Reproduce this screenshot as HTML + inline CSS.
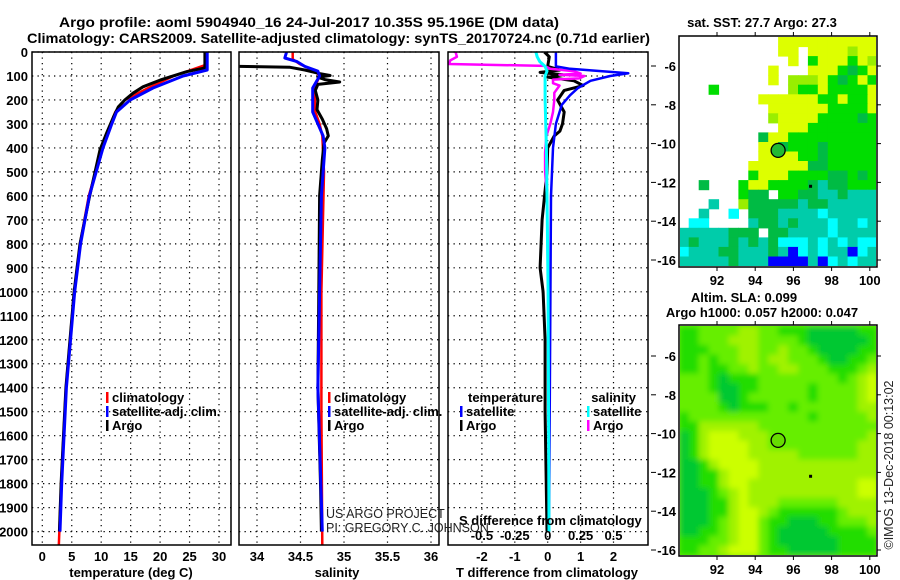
<!DOCTYPE html>
<html><head><meta charset="utf-8"><style>
html,body{margin:0;padding:0;background:#fff;}
svg{display:block;font-family:"Liberation Sans",sans-serif;}
.b{font-weight:bold;font-size:13px;fill:#000;}
.t{font-weight:bold;font-size:14px;fill:#000;}
.thin{font-size:12.5px;fill:#222;}
.grid{stroke:#000;stroke-width:1.2;stroke-dasharray:1.3 4.2;fill:none;}
.frame{fill:none;stroke:#000;stroke-width:1.5;}
</style></head><body>
<svg id="chart" width="900" height="580" viewBox="0 0 900 580" xmlns="http://www.w3.org/2000/svg">
<defs>
<clipPath id="c1"><rect x="32" y="52" width="199" height="493"/></clipPath>
<clipPath id="c2"><rect x="239" y="52" width="200" height="493"/></clipPath>
<clipPath id="c3"><rect x="448" y="52" width="200" height="493"/></clipPath>
<clipPath id="cm1"><rect x="680" y="37" width="196" height="229"/></clipPath>
<clipPath id="cm2"><rect x="680" y="326" width="196" height="229"/></clipPath>
<filter id="blur"><feGaussianBlur stdDeviation="3"/></filter>
</defs>
<text class="t" x="59" y="27" textLength="500" lengthAdjust="spacingAndGlyphs">Argo profile: aoml 5904940_16 24-Jul-2017 10.35S 95.196E (DM data)</text>
<text class="t" x="27" y="43" textLength="623" lengthAdjust="spacingAndGlyphs">Climatology: CARS2009. Satellite-adjusted climatology: synTS_20170724.nc (0.71d earlier)</text>
<text class="b" x="762" y="27" text-anchor="middle">sat. SST: 27.7 Argo: 27.3</text>
<text class="b" x="744" y="302" text-anchor="middle">Altim. SLA: 0.099</text>
<text class="b" x="762" y="317" text-anchor="middle">Argo h1000: 0.057 h2000: 0.047</text>
<g id="g"></g>
<text class="thin" x="326" y="518">US ARGO PROJECT</text>
<text class="thin" x="326" y="532">PI: GREGORY C. JOHNSON</text>
<text class="thin" transform="translate(893,465) rotate(-90)" text-anchor="middle">©IMOS 13-Dec-2018 00:13:02</text>
</svg>
<script>
// ---- data ----
const depthTicks = [0,100,200,300,400,500,600,700,800,900,1000,1100,1200,1300,1400,1500,1600,1700,1800,1900,2000];
const tempTicks = [0,5,10,15,20,25,30];
const salTicks = [34,34.5,35,35.5,36];
const salTickLabels = ["34","34.5","35","35.5","36"];
const dtTicks = [-2,-1,0,1,2];
const dsTicks = [-0.5,-0.25,0,0.25,0.5];
const dsTickLabels = ["-0.5","-0.25","0","0.25","0.5"];

const tArgoDepth = [0,65,68,82,117,145,172,200,229,270,339,408,617,800,1000,1400,1800,2000];
const tArgo      = [27.6,27.6,27.3,24.5,20,17.1,15.4,14,12.9,12.1,10.9,9.8,7.9,6.4,5.4,4.0,3.2,2.9];
const tSatDepth  = [0,75,100,150,200,250,300,400,600,800,1000,1400,1800,2000];
const tSat       = [28,28,23.9,18.8,14.9,12.6,11.8,10.3,8.0,6.5,5.5,4.1,3.3,3.0];
const tClimDepth = [0,55,100,150,200,250,300,400,600,800,1000,1400,1800,2060];
const tClim      = [27.6,27.6,22.3,18.0,14.0,12.4,11.6,10.2,7.9,6.4,5.4,4.0,3.2,2.8];

const sArgoDepth = [60,64,75,90,98,105,115,125,135,160,200,240,280,320,350,380,450,600,1000,1400,1800,2000];
const sArgo      = [33.8,34.38,34.55,34.72,34.84,34.70,34.78,34.95,34.70,34.67,34.70,34.69,34.75,34.80,34.82,34.77,34.75,34.72,34.71,34.70,34.73,34.74];
const sSatDepth  = [0,25,40,60,80,100,150,250,300,350,400,600,1000,1400,2000];
const sSat       = [34.34,34.32,34.46,34.55,34.70,34.72,34.64,34.64,34.70,34.76,34.78,34.74,34.72,34.70,34.75];
const sClimDepth = [0,30,50,80,100,150,250,300,350,500,1000,1500,2060];
const sClim      = [34.41,34.41,34.49,34.67,34.72,34.66,34.67,34.72,34.75,34.77,34.74,34.74,34.75];

const dtSatDepth = [0,60,70,89,100,120,150,180,220,300,400,600,2000];
const dtSat      = [0.25,0.25,0.68,2.45,1.9,1.3,0.92,0.68,0.43,0.25,0.16,0.1,0.04];
const dtArgoDepth = [0,20,60,75,85,95,105,120,140,160,200,250,300,330,350,400,500,700,900,1000,1200,1500,2000];
const dtArgo      = [-0.1,0.05,0,0.37,-0.23,0.45,0,0.8,1.08,0.5,0.3,0.5,0.45,0.37,0.2,0,-0.02,-0.17,-0.23,-0.14,-0.08,-0.08,-0.02];
const dsArgoDepth = [0,20,35,50,58,70,80,90,95,100,110,115,130,140,170,200,250,300,350,420,500,600,1000,1500,2000];
const dsArgo      = [-0.70,-0.69,-0.74,-0.75,-0.025,0.02,0.2,0.25,0.09,0.28,0.24,0.04,0.04,0.09,0.05,0.05,0.04,0.02,-0.01,-0.02,-0.02,-0.005,0.003,0.01,0.01];
const dsSatDepth = [0,20,40,60,80,100,200,400,600,1000,2000];
const dsSat      = [-0.09,-0.08,-0.06,-0.02,-0.005,-0.02,-0.02,-0.01,-0.005,0.003,0.01];

const mapLonTicks = [92,94,96,98,100];
const map1LatTicks = [-6,-8,-10,-12,-14,-16];
const map2LatTicks = [-6,-8,-10,-12,-14,-16];
const argoLon = 95.2, argoLat = -10.35;
const sstRows = [
"..........yyyyyyyyyy",
"..........yy.yyyylyy",
"...........y.gyyygyl",
".........y...yyygdgy",
".........y.lllygdgyg",
"...g.......lggyggggy",
"........yyyyyyggyggy",
".........yyyyyyggggy",
".........lyyyyggggdg",
"..........yyyggggggg",
"........dyyggggggggg",
"........yydgggdggggg",
"........yyyyggdggggg",
".......yyyyyyddggggg",
".......gyyyggggddgdg",
"..d...gyyggggdtddggg",
"......gdd.ggddttdttt",
"...t..ldddddtddttttt",
"..t..c.dddttttcttttt",
".cc....tddtdtttcttct",
"tttttddd.ddttttctttt",
"tdtttdtdtdccctctctcc",
"ctttddtttdtbctcttbct",
"tttttdtttbbbbtbctctt"];
const slaRows = [
"11222233221110000011","11222333222210000001","11122233223221000011","11212233233222100112",
"11211223223322211123","22210111222222221234","22210011222221222234","22220012222221222234",
"22221011122122222233","12222222222221222223","11333333222222222222","01344433322222222223",
"01344443322222222233","01344443333322222233","00134444333333333333","00113444333333333333",
"00113443333333333344","00012343333333333344","00011343332222223333","00011344321111112333",
"00012344211000112223","00112344210000011112","11122344210000001111","11223444211000001111"];

// ---- scales ----
const yD = d => 52 + d*0.2398;
const xT = t => 42.3 + t*5.89;
const xS = s => 257 + (s-34)*87;
const xDT = t => 547.7 + t*32.9;
const xDS = s => 547.7 + s*4*32.9;
const lonX = lon => 717 + (lon-92)*19.1;
const latY1 = lat => 66 + (-6-lat)*19.4;
const latY2 = lat => 356 + (-6-lat)*19.4;

const NS="http://www.w3.org/2000/svg";
const G=document.getElementById('g');
function mk(tag,attrs,parent,text){const e=document.createElementNS(NS,tag);for(const k in attrs)e.setAttribute(k,attrs[k]);if(text!==undefined)e.textContent=text;(parent||G).appendChild(e);return e;}

function panel(x0,x1,name,vgridXs,ticks,labels,xtitle,titleX,clip,series){
  const grp=mk('g',{});
  
  
  depthTicks.forEach(d=>{const y=yD(d);const l=mk('line',{x1:x0,x2:x1,y1:y,y2:y,class:'grid'},grp);
    
    });
  vgridXs.forEach(x=>{const l=mk('line',{x1:x,x2:x,y1:52,y2:545,class:'grid'},grp);
    
    });
  ticks.forEach((x,i)=>{const t=mk('text',{x:x,y:561,class:'b','text-anchor':'middle'},grp,labels[i]);
    
    });
  const tt=mk('text',{x:titleX,y:577,class:'b','text-anchor':'middle'},grp,xtitle);
  
  
  const sg=mk('g',{'clip-path':'url(#'+clip+')'},grp);
  series.forEach(s=>{
    const pts=s.v.map((v,i)=>s.fx(v).toFixed(1)+','+yD(s.d[i]).toFixed(1)).join(' ');
    const p=mk('polyline',{points:pts,fill:'none',stroke:s.c,'stroke-width':s.w||2.5,'stroke-linejoin':'round'},sg);
    
    
  });
  const f=mk('rect',{x:x0,y:52,width:x1-x0,height:493,class:'frame'},grp);
  
  
}
// depth labels
depthTicks.forEach(d=>{const t=mk('text',{x:28,y:yD(d)+5,class:'b','text-anchor':'end'},G,String(d));
  
  });

panel(32,231,'temperature-panel',tempTicks.map(xT),tempTicks.map(xT),tempTicks.map(String),'temperature (deg C)',131,'c1',[
 {d:tClimDepth,v:tClim,fx:xT,c:'#ff0000',n:'temperature-climatology-line'},
 {d:tArgoDepth,v:tArgo,fx:xT,c:'#000000',n:'temperature-argo-line',w:3},
 {d:tSatDepth,v:tSat,fx:xT,c:'#0000ff',n:'temperature-satellite-line',w:3}]);
panel(239,439,'salinity-panel',salTicks.map(xS),salTicks.map(xS),salTickLabels,'salinity',337,'c2',[
 {d:sClimDepth,v:sClim,fx:xS,c:'#ff0000',n:'salinity-climatology-line'},
 {d:sArgoDepth,v:sArgo,fx:xS,c:'#000000',n:'salinity-argo-line',w:3},
 {d:sSatDepth,v:sSat,fx:xS,c:'#0000ff',n:'salinity-satellite-line',w:3}]);
panel(448,648,'difference-panel',dtTicks.map(xDT),dtTicks.map(xDT),dtTicks.map(String),'T difference from climatology',547,'c3',[
 {d:dtArgoDepth,v:dtArgo,fx:xDT,c:'#000000',n:'t-diff-argo-line',w:3},
 {d:dsArgoDepth,v:dsArgo,fx:xDS,c:'#ff00ff',n:'s-diff-argo-line'},
 {d:dtSatDepth,v:dtSat,fx:xDT,c:'#0000ff',n:'t-diff-satellite-line'},
 {d:dsSatDepth,v:dsSat,fx:xDS,c:'#00ffff',n:'s-diff-satellite-line',w:3}]);
// S diff axis
let st=mk('text',{x:459,y:525,class:'b'},G,'S difference from climatology');


dsTicks.forEach((s,i)=>{const t=mk('text',{x:xDS(s),y:540,class:'b','text-anchor':'middle'},G,dsTickLabels[i]);
  
  });

// legends
function legend(x,y,color,label,anchor){
  const lg=mk('g',{});
  
  
  mk('rect',{x:x,y:y-10,width:2.5,height:11,fill:color},lg);
  mk('text',{x:x+6,y:y,class:'b'},lg,label);
}
legend(106,402,'#ff0000','climatology');legend(106,416,'#0000ff','satellite-adj. clim.');legend(106,430,'#000','Argo');
legend(328,402,'#ff0000','climatology');legend(328,416,'#0000ff','satellite-adj. clim.');legend(328,430,'#000','Argo');
let lt=mk('text',{x:468,y:402,class:'b'},G,'temperature');


legend(460,416,'#0000ff','satellite');legend(460,430,'#000','Argo');
let ls=mk('text',{x:636,y:402,class:'b','text-anchor':'end'},G,'salinity');


legend(587,416,'#00ffff','satellite');legend(587,430,'#ff00ff','Argo');

// maps
const sstColors={y:'#ddff00',l:'#99ee00',g:'#00dd00',d:'#00bb44',t:'#00ccaa',c:'#00ffff',b:'#0000ff'};
const slaColors=['#00c830','#22dd00','#66ee00','#a0f200','#ccff00'];
function drawMap(rows,colorOf,latY,clip,name,latTicks,top,bottom,blur){
  const mg=mk('g',{});
  
  
  const cells=mk('g',{'clip-path':'url(#'+clip+')'},mg);
  const inner=blur?mk('g',{filter:'url(#blur)'},cells):cells;
  if(blur) mk('rect',{x:670,y:top-10,width:220,height:bottom-top+20,fill:slaColors[2]},inner);
  const lonStep=10.4/20, lat0=(-6-(top-(latY===latY1?66:356))/19.4*-1);
  const latTop = -6 + ((latY===latY1?66:356)-top)/19.4;
  const latStep=(bottom-top)/19.4/rows.length;
  rows.forEach((row,r)=>{[...row].forEach((ch,c)=>{
    const col=colorOf(ch); if(!col) return;
    const lon=90.0+c*lonStep, lat=latTop-r*latStep;
    const x=lonX(lon), y=latY(lat);
    const cell=mk('rect',{x:x.toFixed(1),y:y.toFixed(1),width:(lonStep*19.1+0.6).toFixed(1),height:(latStep*19.4+0.6).toFixed(1),fill:col},inner);
    
    
  });});
  const fr=mk('rect',{x:679,y:top-1,width:198,height:bottom-top+2,class:'frame'},mg);
  
  
  mapLonTicks.forEach(l=>{const x=lonX(l);
    mk('line',{x1:x,x2:x,y1:top-1,y2:top-5,stroke:'#000'},mg);
    mk('line',{x1:x,x2:x,y1:bottom+1,y2:bottom+5,stroke:'#000'},mg);
    const t=mk('text',{x:x,y:bottom+19,class:'b','text-anchor':'middle'},mg,String(l));
    
    });
  latTicks.forEach(l=>{const y=latY(l);
    mk('line',{x1:877,x2:881,y1:y,y2:y,stroke:'#000'},mg);
    mk('line',{x1:651,x2:656,y1:y,y2:y,stroke:'#000'},mg);
    const t=mk('text',{x:676,y:y+5,class:'b','text-anchor':'end'},mg,String(l));
    
    });
  const ci=mk('circle',{cx:lonX(argoLon),cy:latY(argoLat),r:7,fill:blur?'#66dd00':'#22bb33',stroke:'#000','stroke-width':1.3},mg);
  
  
  mk('rect',{x:lonX(96.9)-1.5,y:latY(-12.2)-1.5,width:3,height:3,fill:'#000'},mg);
}
drawMap(sstRows,ch=>sstColors[ch],latY1,'cm1','sst-map',map1LatTicks,37,266,false);
drawMap(slaRows,ch=>slaColors[+ch],latY2,'cm2','sla-map',map2LatTicks,326,555,true);
</script>
</body></html>
